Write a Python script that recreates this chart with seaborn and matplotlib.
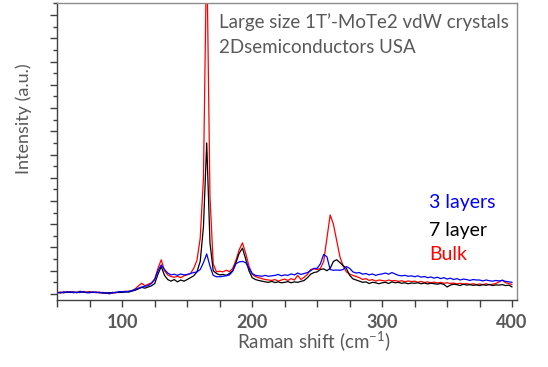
import numpy as np
import pandas as pd
import matplotlib
matplotlib.use("Agg")
import matplotlib.pyplot as plt
from matplotlib.ticker import MultipleLocator, NullFormatter
import seaborn as sns

# Raman shift grid (cm-1), one point every 2.5 cm-1
shift = np.arange(50, 400.01, 2.5)

# intensities, rows of 10 points (25 cm-1 each)
bulk = [
    0.05, 0.08, 0.04, 0.10, 0.06, 0.09, 0.05, 0.12, 0.07, 0.08,
    0.10, 0.06, 0.09, 0.04, 0.07, 0.02, 0.05, 0.03, 0.08, 0.06,
    0.08, 0.12, 0.10, 0.15, 0.22, 0.35, 0.46, 0.35, 0.42, 0.48,
    0.65, 1.10, 1.47, 1.00, 0.82, 0.75, 0.72, 0.76, 0.70, 0.78,
    0.82, 0.88, 1.10, 1.45, 2.40, 5.00, 15.0, 4.20, 1.30, 0.95,
    0.98, 0.95, 1.02, 0.96, 1.10, 1.45, 1.90, 2.20, 1.75, 1.20,
    0.85, 0.75, 0.70, 0.66, 0.62, 0.60, 0.58, 0.62, 0.55, 0.60,
    0.64, 0.58, 0.66, 0.60, 0.80, 0.62, 0.72, 0.85, 1.05, 1.08,
    1.05, 1.10, 1.40, 2.40, 3.40, 3.00, 2.30, 1.60, 1.20, 0.95,
    0.85, 0.80, 0.75, 0.70, 0.62, 0.66, 0.58, 0.62, 0.55, 0.60,
    0.58, 0.55, 0.60, 0.56, 0.58, 0.54, 0.57, 0.52, 0.56, 0.53,
    0.55, 0.50, 0.54, 0.49, 0.52, 0.48, 0.51, 0.47, 0.50, 0.46,
    0.48, 0.45, 0.47, 0.43, 0.46, 0.42, 0.45, 0.41, 0.44, 0.40,
    0.43, 0.40, 0.44, 0.39, 0.42, 0.45, 0.52, 0.60, 0.48, 0.45,
    0.40,
]
seven_layer = [
    0.06, 0.06, 0.07, 0.08, 0.07, 0.08, 0.06, 0.09, 0.08, 0.07,
    0.07, 0.07, 0.06, 0.06, 0.05, 0.04, 0.05, 0.05, 0.06, 0.07,
    0.07, 0.09, 0.08, 0.12, 0.16, 0.22, 0.28, 0.25, 0.30, 0.35,
    0.45, 0.85, 1.18, 0.80, 0.62, 0.55, 0.62, 0.52, 0.60, 0.55,
    0.62, 0.70, 0.78, 0.95, 1.40, 2.90, 6.50, 2.20, 1.00, 0.88,
    0.82, 0.84, 0.80, 0.88, 1.00, 1.35, 1.75, 1.97, 1.50, 1.00,
    0.70, 0.62, 0.58, 0.55, 0.52, 0.50, 0.54, 0.49, 0.52, 0.48,
    0.50, 0.53, 0.48, 0.52, 0.50, 0.54, 0.58, 0.70, 0.85, 0.92,
    0.95, 1.05, 1.08, 1.00, 1.10, 1.40, 1.47, 1.35, 1.22, 1.10,
    0.80, 0.65, 0.60, 0.55, 0.50, 0.52, 0.45, 0.50, 0.48, 0.44,
    0.48, 0.50, 0.45, 0.52, 0.48, 0.50, 0.46, 0.48, 0.44, 0.47,
    0.46, 0.48, 0.44, 0.47, 0.43, 0.46, 0.44, 0.42, 0.45, 0.41,
    0.30, 0.38, 0.42, 0.40, 0.36, 0.42, 0.38, 0.40, 0.37, 0.39,
    0.36, 0.40, 0.37, 0.41, 0.36, 0.39, 0.38, 0.40, 0.36, 0.38,
    0.30,
]
three_layers = [
    0.07, 0.04, 0.09, 0.06, 0.10, 0.05, 0.08, 0.06, 0.11, 0.05,
    0.05, 0.09, 0.06, 0.08, 0.03, 0.06, 0.00, 0.07, 0.05, 0.10,
    0.10, 0.08, 0.12, 0.14, 0.20, 0.25, 0.30, 0.33, 0.36, 0.45,
    0.62, 1.00, 1.25, 1.05, 0.90, 0.82, 0.85, 0.80, 0.86, 0.82,
    0.84, 0.88, 0.92, 0.95, 1.05, 1.35, 1.72, 1.20, 0.80, 0.74,
    0.74, 0.76, 0.78, 0.82, 0.98, 1.30, 1.38, 1.40, 1.35, 1.10,
    0.88, 0.80, 0.78, 0.76, 0.80, 0.76, 0.78, 0.80, 0.84, 0.78,
    0.82, 0.80, 0.86, 0.82, 0.90, 0.84, 0.88, 0.92, 1.00, 1.10,
    1.10, 1.30, 1.70, 1.60, 1.05, 1.02, 1.03, 1.02, 1.05, 1.18,
    1.10, 0.95, 0.90, 0.92, 0.85, 0.88, 0.82, 0.86, 0.80, 0.84,
    0.86, 0.90, 0.85, 0.92, 0.86, 0.80, 0.78, 0.80, 0.76, 0.78,
    0.74, 0.78, 0.72, 0.75, 0.70, 0.73, 0.68, 0.72, 0.66, 0.70,
    0.64, 0.68, 0.62, 0.66, 0.60, 0.64, 0.62, 0.58, 0.62, 0.60,
    0.60, 0.56, 0.60, 0.57, 0.55, 0.58, 0.56, 0.58, 0.54, 0.52,
    0.50,
]

sample_names = ["Bulk", "7 layer", "3 layers"]
sample_colors = ["#ff0000", "#000000", "#0000ff"]

sns.set_style("ticks")
plt.rcParams["font.family"] = ["Lato", "DejaVu Sans"]
plt.rcParams["mathtext.default"] = "regular"

text_gray = "#595959"

df = pd.DataFrame({
    "shift": np.concatenate([shift, shift, shift]),
    "intensity": np.concatenate([bulk, seven_layer, three_layers]),
    "sample": np.repeat(sample_names, len(shift)),
})

fig = plt.figure(figsize=(5.48, 3.67), dpi=100)
ax = fig.add_axes([0.1045, 0.1826, 0.8383, 0.8079])

sns.lineplot(data=df, x="shift", y="intensity", hue="sample",
             hue_order=sample_names, palette=sample_colors,
             estimator=None, sort=False, linewidth=0.9, legend=False, ax=ax)

ax.set_xlim(50, 403.5)
ax.set_ylim(-0.26, 12.5)

ax.xaxis.set_major_locator(MultipleLocator(100))
ax.xaxis.set_minor_locator(MultipleLocator(25))
ax.yaxis.set_major_locator(MultipleLocator(1))
ax.yaxis.set_minor_locator(MultipleLocator(0.5))
ax.yaxis.set_major_formatter(NullFormatter())

ax.tick_params(axis="x", which="both", direction="out", length=5, width=1,
               color="#404040", labelsize=13, labelcolor=text_gray, pad=5)
ax.tick_params(axis="y", which="major", direction="out", length=5, width=1,
               color="#404040")
ax.tick_params(axis="y", which="minor", direction="out", length=3, width=1,
               color="#404040")
for lbl in ax.get_xticklabels():
    lbl.set_fontweight("bold")

for side in ["left", "bottom"]:
    ax.spines[side].set_color("#404040")
    ax.spines[side].set_linewidth(1.0)
for side in ["top", "right"]:
    ax.spines[side].set_visible(True)
    ax.spines[side].set_color("#8c8c8c")
    ax.spines[side].set_linewidth(1.0)

ax.set_xlabel("Raman shift (cm$^{-1}$)", fontsize=13.5, color=text_gray)
ax.xaxis.set_label_coords(0.558, -0.139)
ax.xaxis.label.set_va("center")
ax.set_ylabel("Intensity (a.u.)", fontsize=13, color=text_gray)
ax.yaxis.set_label_coords(-0.073, 0.61)
ax.yaxis.label.set_va("center")

# title-like note in the upper right
fig.text(219 / 548, 1 - 22.5 / 367, "Large size 1T\u2019-MoTe2 vdW crystals",
         fontsize=13.5, color=text_gray, va="center", ha="left")
fig.text(219 / 548, 1 - 47.5 / 367, "2Dsemiconductors USA",
         fontsize=13.5, color=text_gray, va="center", ha="left")

# hand-placed legend text
legend_y = [203, 230, 255]
for name, col, yy in zip(["3 layers", "7 layer", "Bulk"],
                         ["#0000ff", "#000000", "#ff0000"], legend_y):
    fig.text(429 / 548, 1 - yy / 367, name, fontsize=14, color=col,
             va="center", ha="left")

fig.savefig("out.png", dpi=100)
